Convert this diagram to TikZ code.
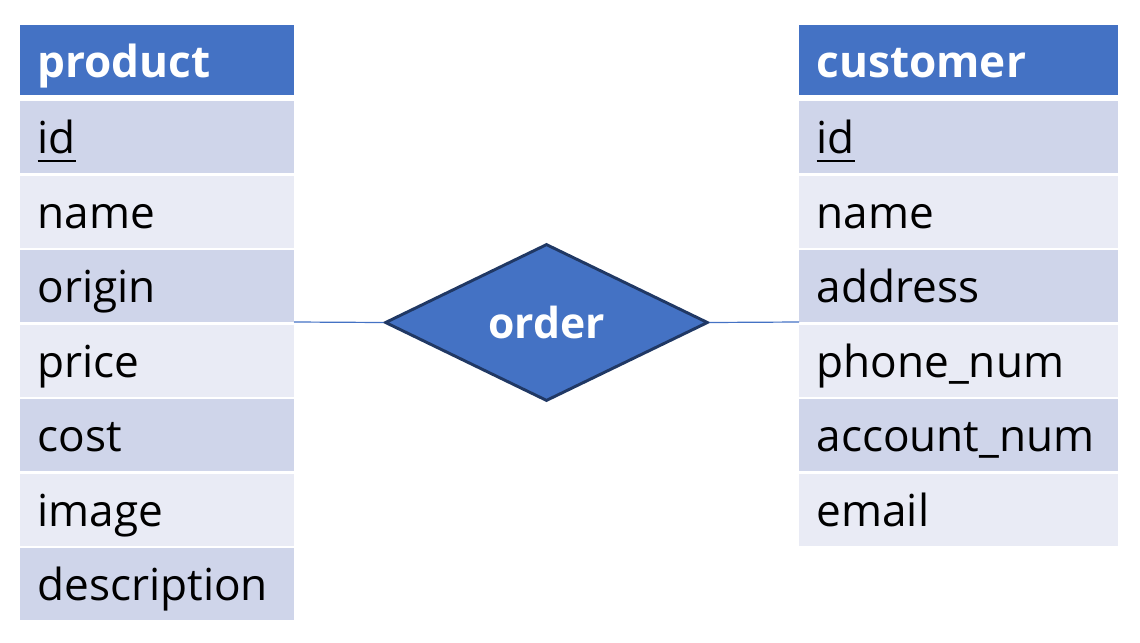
\documentclass[tikz,border=0pt]{standalone}
\usepackage{fontspec}
\setmainfont{Open Sans}
\usetikzlibrary{shapes.geometric}
\definecolor{hdr}{HTML}{4472C4}
\definecolor{rowA}{HTML}{CFD5EA}
\definecolor{rowB}{HTML}{E9EBF5}
\definecolor{edgec}{HTML}{203864}
\begin{document}
\begin{tikzpicture}[x=0.75pt,y=-0.75pt,
  cell/.style={rectangle, inner sep=0pt, outer sep=0pt, draw=none, minimum height=54pt},
  lcell/.style={cell, minimum width=205.5pt},
  rcell/.style={cell, minimum width=239.25pt},
  hdrcell/.style={fill=hdr, minimum height=52.5pt},
  txt/.style={anchor=base west, inner sep=0pt, outer sep=0pt, text=black, font=\fontsize{33.1}{36}\selectfont},
  htxt/.style={txt, text=white, font=\fontsize{33.1}{36}\selectfont\bfseries},
  rel/.style={diamond, draw=edgec, line width=2.2pt, fill=hdr, inner sep=0pt,
    minimum width=242.25pt, minimum height=117.75pt, aspect=2.06,
    text=white, font=\fontsize{32}{36}\selectfont\bfseries},
  conn/.style={draw=hdr, line width=0.9pt},
  uline/.style={line width=1.5pt, black}]
\useasboundingbox (0,0) rectangle (1140,643);
% product table
\node[lcell, hdrcell] (phead) at (157,60) {};
\node[htxt] (pheadtxt) at (37.5,77) {product};
\foreach \t/\c [count=\i] in {id/rowA, name/rowB, origin/rowA, price/rowB, cost/rowA, image/rowB, description/rowA}{
  \pgfmathsetmacro\rt{101+74.5*(\i-1)}
  \node[lcell, fill=\c] (p\i) at (157,\rt+36) {};
  \node[txt] (pt\i) at (37.5,\rt+52.5) {\t};
}
\draw[uline] ([yshift=-5.25pt]pt1.base west) -- ([yshift=-5.25pt]pt1.base east);
% customer table
\node[rcell, hdrcell] (chead) at (958.5,60) {};
\node[htxt] (cheadtxt) at (816.5,77) {customer};
\foreach \t/\c [count=\i] in {id/rowA, name/rowB, address/rowA, phone\_num/rowB, account\_num/rowA, email/rowB}{
  \pgfmathsetmacro\rt{101+74.5*(\i-1)}
  \node[rcell, fill=\c] (c\i) at (958.5,\rt+36) {};
  \node[txt] (ct\i) at (816.5,\rt+52.5) {\t};
}
\draw[uline] ([yshift=-5.25pt]ct1.base west) -- ([yshift=-5.25pt]ct1.base east);
% relationship
\node[rel] (order) at (546.5,322.5) {order};
\draw[conn] (p3.south east) -- (order.west);
\draw[conn] (order.east) -- (c3.south west);
\end{tikzpicture}
\end{document}
